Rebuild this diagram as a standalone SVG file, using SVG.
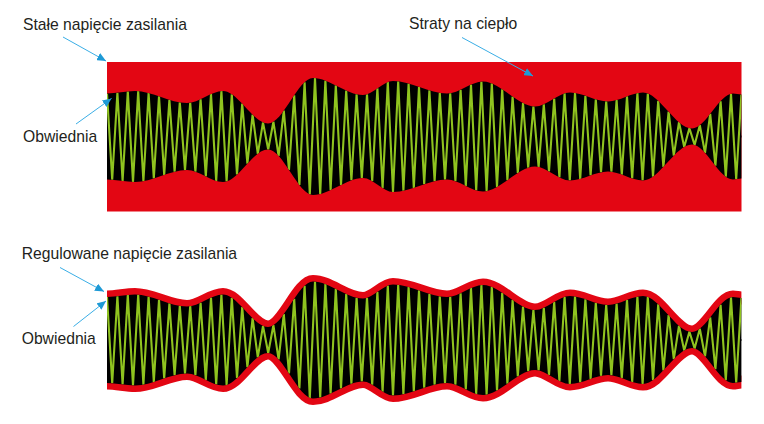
<svg xmlns="http://www.w3.org/2000/svg" xmlns:xlink="http://www.w3.org/1999/xlink" width="764" height="424" viewBox="0 0 764 424">
<style>
text{font-family:"Liberation Sans",Arial,sans-serif;font-size:15.7px;fill:#231f20}
.red{fill:#e30613}
.env{fill:#000}
.zig{fill:none;stroke:#8fc31f;stroke-width:2.1;stroke-linejoin:miter}
.band{fill:none;stroke:#e30613;stroke-width:13}
.arrow{stroke:#3aaee6;stroke-width:1;fill:none;marker-end:url(#ah)}
</style>
<defs>
<marker id="ah" markerUnits="userSpaceOnUse" markerWidth="10" markerHeight="8" refX="9" refY="4" orient="auto"><path d="M0,0 L9,4 L0,8 Z" fill="#1e9ad6"/></marker>
<path id="env" d="M107,-43 C116.33,-43 125.67,-45.5 135,-45.5 C152.33,-45.5 169.67,-33.5 187,-33.5 C199,-33.5 211,-45.5 223,-45.5 C238,-45.5 253,-13 268,-13 C283,-13 298,-58.5 313,-58.5 C329.67,-58.5 346.33,-41.5 363,-41.5 C373,-41.5 383,-55.5 393,-55.5 C411,-55.5 429,-43 447,-43 C459,-43 471,-55 483,-55 C500.33,-55 517.67,-30 535,-30 C546.67,-30 558.33,-44 570,-44 C582.67,-44 595.33,-35 608,-35 C619.67,-35 631.33,-44 643,-44 C659.33,-44 675.67,-8 692,-8 C705.67,-8 719.33,-43 733,-43 C735.8,-43 738.6,-42 741.4,-42"/>
<path id="half" d="M107,-43 C116.33,-43 125.67,-45.5 135,-45.5 C152.33,-45.5 169.67,-33.5 187,-33.5 C199,-33.5 211,-45.5 223,-45.5 C238,-45.5 253,-13 268,-13 C283,-13 298,-58.5 313,-58.5 C329.67,-58.5 346.33,-41.5 363,-41.5 C373,-41.5 383,-55.5 393,-55.5 C411,-55.5 429,-43 447,-43 C459,-43 471,-55 483,-55 C500.33,-55 517.67,-30 535,-30 C546.67,-30 558.33,-44 570,-44 C582.67,-44 595.33,-35 608,-35 C619.67,-35 631.33,-44 643,-44 C659.33,-44 675.67,-8 692,-8 C705.67,-8 719.33,-43 733,-43 C735.8,-43 738.6,-42 741.4,-42 L741.4,1 L107,1 Z"/>
<clipPath id="clipEnv">
<use xlink:href="#half"/>
<use xlink:href="#half" transform="scale(1,-1)"/>
</clipPath>
<path id="zig" d="M107,-43 L112.2,43.2 L117.4,-43.8 L122.6,44.5 L127.8,-45.1 L133,45.5 L138.2,-45.4 L143.4,44.7 L148.6,-43.5 L153.8,41.9 L159,-40.2 L164.2,38.4 L169.4,-36.7 L174.6,35.2 L179.8,-34.1 L185,33.6 L190.2,-33.8 L195.4,35.2 L200.6,-37.3 L205.8,39.9 L211,-42.4 L216.2,44.4 L221.4,-45.4 L226.6,44.9 L231.8,-42.3 L237,38 L242.2,-32.8 L247.4,27.2 L252.6,-21.8 L257.8,17.3 L263,-14.1 L268.2,13 L273.4,-14.8 L278.6,19.4 L283.8,-25.9 L289,33.5 L294.2,-41.3 L299.4,48.5 L304.6,-54.3 L309.8,57.9 L315,-58.4 L320.2,57.5 L325.4,-55.9 L330.6,53.7 L335.8,-51.1 L341,48.5 L346.2,-46 L351.4,43.8 L356.6,-42.3 L361.8,41.5 L367,-42.2 L372.2,44.6 L377.4,-48.1 L382.6,51.6 L387.8,-54.4 L393,55.5 L398.2,-55.2 L403.4,54.3 L408.6,-53 L413.8,51.4 L419,-49.6 L424.2,47.8 L429.4,-46.1 L434.6,44.7 L439.8,-43.6 L445,43.1 L450.2,-43.3 L455.4,44.7 L460.6,-46.8 L465.8,49.4 L471,-51.9 L476.2,53.9 L481.4,-54.9 L486.6,54.7 L491.8,-53.1 L497,50.5 L502.2,-47.3 L507.4,43.7 L512.6,-39.9 L517.8,36.4 L523,-33.4 L528.2,31.2 L533.4,-30.1 L538.6,30.4 L543.8,-32.2 L549,34.9 L554.2,-38 L559.4,40.9 L564.6,-43.1 L569.8,44 L575,-43.6 L580.2,42.4 L585.4,-40.8 L590.6,38.9 L595.8,-37.2 L601,35.8 L606.2,-35.1 L611.4,35.2 L616.6,-36.4 L621.8,38.1 L627,-40.1 L632.2,42 L637.4,-43.4 L642.6,44 L647.8,-43 L653,40.1 L658.2,-35.8 L663.4,30.5 L668.6,-24.8 L673.8,19.2 L679,-14.3 L684.2,10.5 L689.4,-8.3 L694.6,8.4 L699.8,-11.3 L705,16.3 L710.2,-22.6 L715.4,29.2 L720.6,-35.3 L725.8,40.1 L731,-42.8 L736.2,42.7 L741.4,-42"/>
</defs>

<g id="panel-constant">
<rect class="red" x="107" y="62" width="634.5" height="149.5"/>
<g transform="translate(0,136.5)">
<use xlink:href="#half" class="env"/>
<use xlink:href="#half" class="env" transform="scale(1,-1)"/>
<g clip-path="url(#clipEnv)"><use xlink:href="#zig" class="zig"/></g>
</g>
</g>

<g id="panel-regulated">
<g transform="translate(0,340)">
<use xlink:href="#env" class="band"/>
<use xlink:href="#env" class="band" transform="scale(1,-1)"/>
<use xlink:href="#half" class="env"/>
<use xlink:href="#half" class="env" transform="scale(1,-1)"/>
<g clip-path="url(#clipEnv)"><use xlink:href="#zig" class="zig"/></g>
</g>
</g>

<g id="labels">
<text id="label-stale" x="23" y="30">Stałe napięcie zasilania</text>
<text id="label-straty" x="409" y="29">Straty na ciepło</text>
<text id="label-obwiednia-1" x="23" y="142">Obwiednia</text>
<text id="label-regulowane" x="21.7" y="259">Regulowane napięcie zasilania</text>
<text id="label-obwiednia-2" x="21.7" y="344">Obwiednia</text>
</g>

<g id="connectors">
<line class="arrow" x1="63" y1="37" x2="106" y2="61"/>
<line class="arrow" x1="76" y1="124" x2="111.5" y2="98.5"/>
<line class="arrow" x1="462" y1="37.5" x2="533" y2="76"/>
<line class="arrow" x1="60" y1="267.5" x2="104" y2="291.5"/>
<line class="arrow" x1="73.5" y1="326.5" x2="106" y2="301"/>
</g>
</svg>
